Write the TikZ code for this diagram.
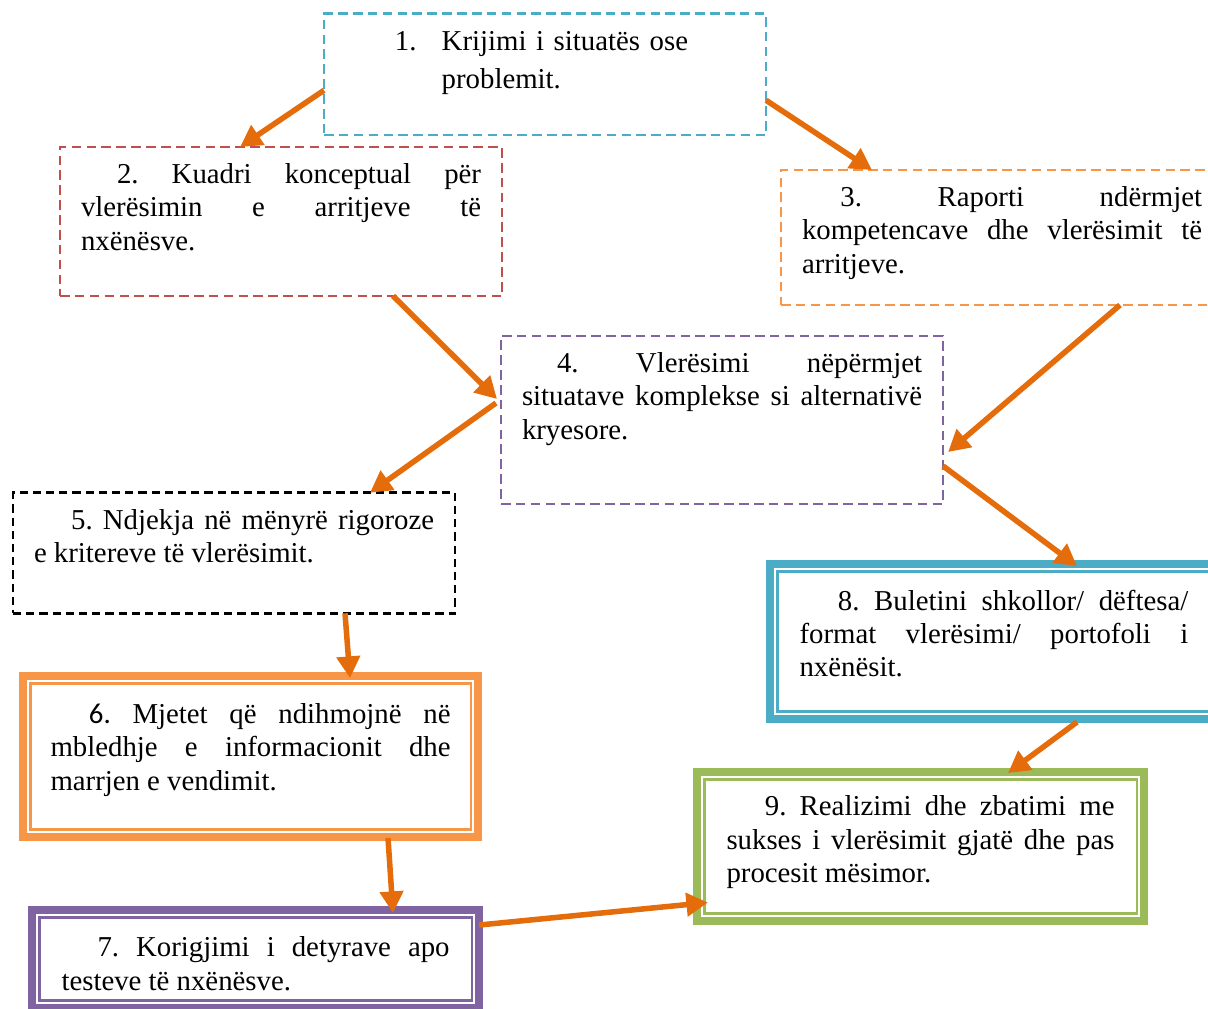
\documentclass[tikz,border=0pt]{standalone}
\usepackage{fontspec}
\setmainfont{Liberation Serif}
\newfontfamily\carlito{Carlito}
\usetikzlibrary{arrows.meta}
\definecolor{boxcyan}{HTML}{4BACC6}
\definecolor{boxred}{HTML}{C0504D}
\definecolor{boxorange}{HTML}{F79646}
\definecolor{boxpurple}{HTML}{8064A2}
\definecolor{boxgreen}{HTML}{9BBB59}
\definecolor{arrowc}{HTML}{E46C0A}
\hbadness=10000
\hyphenpenalty=10000
\frenchspacing

\begin{document}
\begin{tikzpicture}[x=0.41667pt, y=-0.41667pt, font=\fontsize{12}{13.9}\selectfont,
		dashbox/.style={draw=#1, line width=0.85pt, dash pattern=on 4pt off 2.2pt,
			anchor=north west, outer sep=0pt, text width=166.7pt, inner xsep=8.75pt, inner ysep=0pt,
			text height=15.25pt, align=justify},
		framebox/.style={draw=#1, line width=3.4pt, anchor=north west, outer sep=0pt, inner ysep=0pt, align=justify},
		arr/.style={-{Triangle[length=9pt,width=9.5pt]}, line width=2.3pt, draw=arrowc}]
		\clip (0,0) rectangle (1208,1008);
		% dashed boxes
		\node[dashbox=boxcyan, align=left, text depth=35.4pt] (1) at (324,13.5)
			{\hspace*{20.8pt}\makebox[19.5pt][l]{1.}Krijimi i situatës ose\\[2.2pt]\hspace*{40.3pt}problemit.};
		\node[dashbox=boxred, text depth=46.8pt] (2) at (60,147)
			{\hspace*{15pt}2. Kuadri konceptual për\linebreak vlerësimin e arritjeve të\linebreak nxënësve.};
		\node[dashbox=boxorange, text depth=41pt] (3) at (781,170)
			{\hspace*{16pt}3. Raporti ndërmjet\linebreak kompetencave dhe vlerësimit të\linebreak arritjeve.};
		\node[dashbox=boxpurple, text depth=54.75pt] (4) at (501,336)
			{\hspace*{14.6pt}4. Vlerësimi nëpërmjet\linebreak situatave komplekse si alternativë\linebreak kryesore.};
		\node[dashbox=black, line width=1.1pt, dash pattern=on 3.4pt off 2.1pt, text depth=35pt] (5) at (13,492.7)
			{\hspace*{15.5pt}5. Ndjekja në mënyrë rigoroze\linebreak e kritereve të vlerësimit.};
		% framed boxes
		\node[framebox=boxorange, text width=166.7pt, inner xsep=11.46pt, text height=19.7pt, text depth=47.4pt] (6) at (23,676)
			{\hspace*{16pt}{\carlito 6.} Mjetet që ndihmojnë në\linebreak mbledhje e informacionit dhe\linebreak marrjen e vendimit.};
		\node[framebox=boxpurple, text width=161.7pt, inner xsep=12.3pt, text height=19.45pt, text depth=21.4pt] (7) at (32,910)
			{\hspace*{15pt}7. Korigjimi i detyrave apo\linebreak testeve të nxënësve.};
		\node[framebox=boxcyan, text width=162pt, inner xsep=12.3pt, text height=19.2pt, text depth=45.4pt] (8) at (770,564)
			{\hspace*{16pt}8. Buletini shkollor/ dëftesa/\linebreak format vlerësimi/ portofoli i\linebreak nxënësit.};
		\node[framebox=boxgreen, text width=161.7pt, inner xsep=12.3pt, text height=18.2pt, text depth=43.9pt] (9) at (697,772)
			{\hspace*{16pt}9. Realizimi dhe zbatimi me\linebreak sukses i vlerësimit gjatë dhe pas\linebreak procesit mësimor.};
		% thin inner frame lines
		\foreach \n/\c in {6/boxorange, 7/boxpurple, 8/boxcyan, 9/boxgreen}
			\draw[\c, line width=0.9pt] ([shift={(7.5,7.5)}]\n.north west) rectangle ([shift={(-7.5,-7.5)}]\n.south east);
		% arrows
		\draw[arr] ([shift={(0,16)}]1.west) -- ([shift={(-41,0)}]2.north);
		\draw[arr] ([shift={(0,26)}]1.east) -- ([shift={(91,0)}]3.north west);
		\draw[arr] ([shift={(112,0)}]2.south) -- ([shift={(-4,-21)}]4.west);
		\draw[arr] ([shift={(339,0)}]3.south west) -- ([shift={(5,32)}]4.east);
		\draw[arr] ([shift={(-5,-17)}]4.west) -- ([shift={(357,0)}]5.north west);
		\draw[arr] ([shift={(0,46)}]4.east) -- ([shift={(307,2)}]8.north west);
		\draw[arr] ([shift={(332,0)}]5.south west) -- ([shift={(327,2)}]6.north west);
		\draw[arr] ([shift={(365,1)}]6.south west) -- ([shift={(361,3)}]7.north west);
		\draw[arr] ([shift={(0,-34)}]7.east) -- ([shift={(11,56)}]9.west);
		\draw[arr] ([shift={(307,3)}]8.south west) -- ([shift={(311,1)}]9.north west);
	\end{tikzpicture}
\end{document}
